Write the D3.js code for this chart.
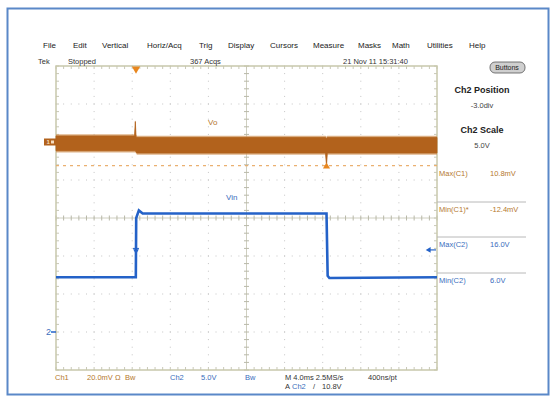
<!DOCTYPE html>
<html>
<head>
<meta charset="utf-8">
<script src="https://cdn.jsdelivr.net/npm/d3@7"></script>
<style>
  body { margin: 0; background: #fff; }
  text { font-family: "Liberation Sans", Arial, sans-serif; }
</style>
</head>
<body>
<div id="scope"></div>
<script>
// channel 1 (Vo) envelope, mV vs ms
var ch1Time = [0, 8.25, 8.33, 8.4, 8.5, 28.3, 28.4, 28.48, 40];
var ch1Max  = [3.2, 3.2, 10.8, 3.0, 2.4, 2.4, 1.8, 2.4, 2.4];
var ch1Min  = [-4.6, -4.6, -4.6, -5.2, -5.8, -5.8, -12.4, -5.8, -5.8];

// channel 2 (Vin), volts vs ms
var ch2Time  = [0, 8.38, 8.42, 8.7, 9.1, 28.4, 28.52, 28.7, 40];
var ch2Volts = [7.2, 7.2, 15.0, 16.0, 15.6, 15.6, 7.4, 7.1, 7.2];

var menuItems = ["File", "Edit", "Vertical", "Horiz/Acq", "Trig", "Display", "Cursors", "Measure", "Masks", "Math", "Utilities", "Help"];
var menuX = [43, 73, 102, 147, 199, 228, 270, 313, 358, 392, 427, 469];

var measNames  = ["Max(C1)", "Min(C1)*", "Max(C2)", "Min(C2)"];
var measValues = ["10.8mV", "-12.4mV", "16.0V", "6.0V"];

var ch1MinCursor = -12.4;   // mV
var trigLevel = 10.8;       // V
var trigTime = 8.4;         // ms

var orange = "#b2621c", orangeTxt = "#b5782e", blue = "#2462c8", blueTxt = "#3a6dbd";

var W = 553, H = 398;
var svg = d3.select("#scope").append("svg")
    .attr("width", W).attr("height", H);

// outer frame
svg.append("rect")
    .attr("x", 7.5).attr("y", 8.5).attr("width", 541).attr("height", 386)
    .attr("fill", "none").attr("stroke", "#5a88c8").attr("stroke-width", 2);

// graticule area
var gL = 56, gR = 437, gT = 66, gB = 370;
var x = d3.scaleLinear().domain([0, 40]).range([gL, gR]);
var y1 = d3.scaleLinear().domain([-120, 40]).range([gB, gT]);
var y2 = d3.scaleLinear().domain([-5, 35]).range([gB, gT]);
var divX = (gR - gL) / 10, divY = (gB - gT) / 8;

var grid = svg.append("g");
// dotted division lines
d3.range(1, 10).forEach(function(i) {
    if (i == 5) return;
    d3.range(0, 41).forEach(function(j) {
        grid.append("rect").attr("x", gL + i * divX - 0.5).attr("y", gT + j * divY / 5 - 0.5)
            .attr("width", 1).attr("height", 1).attr("fill", "#c4c4c4");
    });
});
d3.range(1, 8).forEach(function(i) {
    if (i == 4) return;
    d3.range(0, 51).forEach(function(j) {
        grid.append("rect").attr("x", gL + j * divX / 5 - 0.5).attr("y", gT + i * divY - 0.5)
            .attr("width", 1).attr("height", 1).attr("fill", "#c4c4c4");
    });
});
// center cross
var cx = gL + 5 * divX, cy = gT + 4 * divY;
grid.append("line").attr("x1", cx).attr("x2", cx).attr("y1", gT).attr("y2", gB)
    .attr("stroke", "#cfcfc0").attr("stroke-width", 1);
grid.append("line").attr("x1", gL).attr("x2", gR).attr("y1", cy).attr("y2", cy)
    .attr("stroke", "#cfcfc0").attr("stroke-width", 1);
d3.range(0, 51).forEach(function(j) {
    var xx = gL + j * divX / 5;
    grid.append("line").attr("x1", xx).attr("x2", xx).attr("y1", cy - 2.5).attr("y2", cy + 2.5).attr("stroke", "#b8b8a8");
    grid.append("line").attr("x1", xx).attr("x2", xx).attr("y1", gT).attr("y2", gT + 3).attr("stroke", "#c8c8b8");
    grid.append("line").attr("x1", xx).attr("x2", xx).attr("y1", gB - 3).attr("y2", gB).attr("stroke", "#c8c8b8");
});
d3.range(0, 41).forEach(function(j) {
    var yy = gT + j * divY / 5;
    grid.append("line").attr("y1", yy).attr("y2", yy).attr("x1", cx - 2.5).attr("x2", cx + 2.5).attr("stroke", "#b8b8a8");
    grid.append("line").attr("y1", yy).attr("y2", yy).attr("x1", gL).attr("x2", gL + 3).attr("stroke", "#c8c8b8");
    grid.append("line").attr("y1", yy).attr("y2", yy).attr("x1", gR - 3).attr("x2", gR).attr("stroke", "#c8c8b8");
});
grid.append("rect").attr("x", gL).attr("y", gT).attr("width", gR - gL).attr("height", gB - gT)
    .attr("fill", "none").attr("stroke", "#c8c8ac").attr("stroke-width", 1.5);

// min cursor line for ch1
svg.append("line")
    .attr("x1", gL).attr("x2", gR)
    .attr("y1", y1(ch1MinCursor)).attr("y2", y1(ch1MinCursor))
    .attr("stroke", "#eab070").attr("stroke-width", 1.2).attr("stroke-dasharray", "3,4");

// ch1 trace as envelope band
var ch1 = ch1Time.map(function(t, i) { return { t: t, hi: ch1Max[i], lo: ch1Min[i] }; });
svg.append("path").datum(ch1)
    .attr("fill", "#d39a60").attr("fill-opacity", 0.75)
    .attr("d", d3.area().x(function(d) { return x(d.t); })
        .y0(function(d) { return y1(d.lo - 0.9); }).y1(function(d) { return y1(d.hi + 0.9); }));
svg.append("path").datum(ch1)
    .attr("fill", orange).attr("stroke", orange).attr("stroke-width", 0.8)
    .attr("d", d3.area().x(function(d) { return x(d.t); })
        .y0(function(d) { return y1(d.lo); }).y1(function(d) { return y1(d.hi); }));

// ch2 trace
var ch2 = ch2Time.map(function(t, i) { return { t: t, v: ch2Volts[i] }; });
svg.append("path").datum(ch2)
    .attr("fill", "none").attr("stroke", blue).attr("stroke-width", 2.6)
    .attr("d", d3.line().x(function(d) { return x(d.t); }).y(function(d) { return y2(d.v); }));

// markers
var tx = x(trigTime);
svg.append("path").attr("d", d3.symbol(d3.symbolTriangle, 30)())
    .attr("transform", "translate(" + tx + "," + (gT + 3) + ") rotate(180)").attr("fill", "#e8861e");
svg.append("path").attr("d", d3.symbol(d3.symbolTriangle, 22)())
    .attr("transform", "translate(" + x(28.4) + "," + (y1(ch1MinCursor) + 1) + ")").attr("fill", "#e8861e");
svg.append("path").attr("d", d3.symbol(d3.symbolTriangle, 14)())
    .attr("transform", "translate(" + tx + "," + (y2(trigLevel) + 1) + ") rotate(180)").attr("fill", blue);
svg.append("line").attr("x1", tx - 3).attr("x2", tx + 3).attr("y1", y2(trigLevel) - 1.5).attr("y2", y2(trigLevel) - 1.5)
    .attr("stroke", blue);
// trigger level arrow on the right
svg.append("line").attr("x1", 429).attr("x2", 436).attr("y1", y2(trigLevel)).attr("y2", y2(trigLevel))
    .attr("stroke", blue).attr("stroke-width", 1.2);
svg.append("path").attr("d", d3.symbol(d3.symbolTriangle, 14)())
    .attr("transform", "translate(" + 429 + "," + y2(trigLevel) + ") rotate(-90)").attr("fill", blue);

// ch1 ground marker
svg.append("rect").attr("x", 44).attr("y", y1(0) - 3.5).attr("width", 12).attr("height", 7).attr("fill", orange);
svg.append("text").attr("x", 46.5).attr("y", y1(0)).attr("dy", "0.35em")
    .attr("font-size", 6).attr("font-weight", "bold").attr("fill", "#f4dcc0").text("1");
svg.append("rect").attr("x", 51).attr("y", y1(0) - 1.5).attr("width", 3).attr("height", 3).attr("fill", "#f4dcc0");
// ch2 ground marker
svg.append("text").attr("x", 46).attr("y", y2(0)).attr("dy", "0.35em")
    .attr("font-size", 9).attr("fill", blueTxt).text("2");
svg.append("line").attr("x1", 51).attr("x2", 56).attr("y1", y2(0)).attr("y2", y2(0)).attr("stroke", blue).attr("stroke-width", 1.5);

// trace labels
svg.append("text").attr("x", 208).attr("y", 122).attr("dy", "0.35em").attr("font-size", 8).attr("fill", orangeTxt).text("Vo");
svg.append("text").attr("x", 226).attr("y", 197).attr("dy", "0.35em").attr("font-size", 8).attr("fill", blueTxt).text("Vin");

// menu bar
svg.selectAll(".menu").data(menuItems).enter().append("text")
    .attr("x", function(d, i) { return menuX[i]; }).attr("y", 45).attr("dy", "0.35em")
    .attr("font-size", 8).attr("fill", "#222").text(function(d) { return d; });

var statusRow = [["Tek", 38], ["Stopped", 68], ["367 Acqs", 190], ["21 Nov 11 15:31:40", 343]];
svg.selectAll(".status").data(statusRow).enter().append("text")
    .attr("x", function(d) { return d[1]; }).attr("y", 61).attr("dy", "0.35em")
    .attr("font-size", 7.5).attr("fill", "#333").text(function(d) { return d[0]; });

// right panel
svg.append("rect").attr("x", 490).attr("y", 62).attr("width", 35).attr("height", 11).attr("rx", 5)
    .attr("fill", "#cfcfcf").attr("stroke", "#555").attr("stroke-width", 0.8);
svg.append("text").attr("x", 507).attr("y", 67.5).attr("dy", "0.35em").attr("text-anchor", "middle")
    .attr("font-size", 7).attr("fill", "#222").text("Buttons");

var panel = [["Ch2 Position", 90, true], ["-3.0div", 105, false], ["Ch2 Scale", 130, true], ["5.0V", 145, false]];
svg.selectAll(".panel").data(panel).enter().append("text")
    .attr("x", 482).attr("y", function(d) { return d[1]; }).attr("dy", "0.35em").attr("text-anchor", "middle")
    .attr("font-size", function(d) { return d[2] ? 9 : 7.5; })
    .attr("font-weight", function(d) { return d[2] ? "bold" : "normal"; })
    .attr("fill", function(d) { return d[2] ? "#222" : "#444"; })
    .text(function(d) { return d[0]; });

var measY = [173, 209, 244, 280];
var sepY = [202, 237, 273];
sepY.forEach(function(s) {
    svg.append("line").attr("x1", gR).attr("x2", 526).attr("y1", s).attr("y2", s)
        .attr("stroke", "#b8b8b8").attr("stroke-width", 1);
});
measNames.forEach(function(n, i) {
    var c = i < 2 ? orangeTxt : blueTxt;
    svg.append("text").attr("x", 439).attr("y", measY[i]).attr("dy", "0.35em")
        .attr("font-size", 7.5).attr("fill", c).text(n);
    svg.append("text").attr("x", 490).attr("y", measY[i]).attr("dy", "0.35em")
        .attr("font-size", 7.5).attr("fill", c).text(measValues[i]);
});

// bottom readout
var bottomTxt = [
    ["Ch1", 55, 377, orangeTxt], ["20.0mV", 87, 377, orangeTxt], ["Ω", 115, 377, orangeTxt], ["Bw", 125, 377, orangeTxt],
    ["Ch2", 170, 377, blueTxt], ["5.0V", 201, 377, blueTxt], ["Bw", 245, 377, blueTxt],
    ["M 4.0ms 2.5MS/s", 285, 377, "#333"], ["400ns/pt", 368, 377, "#333"],
    ["A", 285, 386, "#333"], ["Ch2", 292, 386, blueTxt], ["/", 313, 386, "#333"], ["10.8V", 322, 386, "#333"]
];
svg.selectAll(".bot").data(bottomTxt).enter().append("text")
    .attr("x", function(d) { return d[1]; }).attr("y", function(d) { return d[2]; }).attr("dy", "0.35em")
    .attr("font-size", 7.5).attr("fill", function(d) { return d[3]; }).text(function(d) { return d[0]; });
</script>
</body>
</html>
